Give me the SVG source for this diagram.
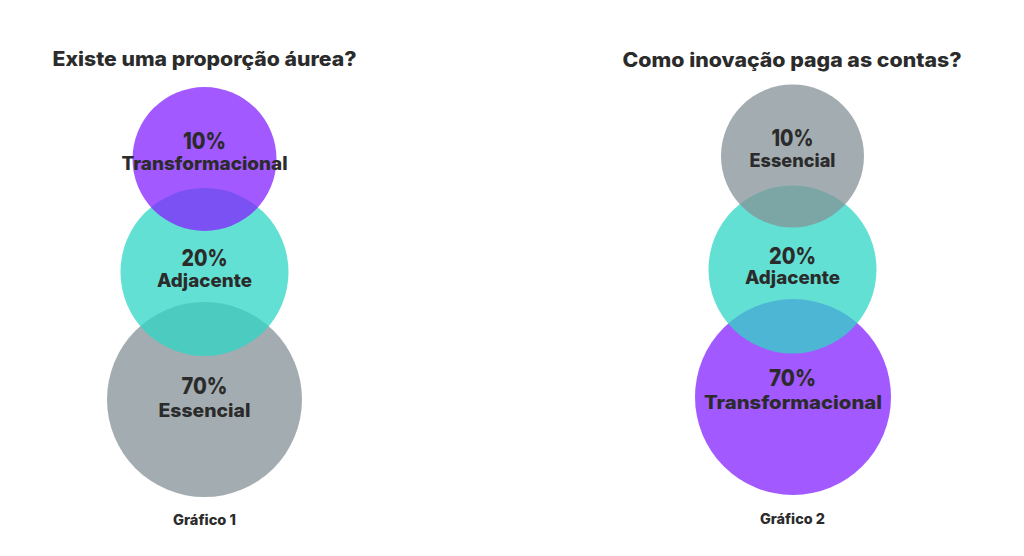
<svg xmlns="http://www.w3.org/2000/svg" width="1024" height="556" viewBox="0 0 1024 556">
  <style>
    text { font-family: Inter, "Liberation Sans", sans-serif; font-weight: 800; fill: #2b2b2b; text-anchor: middle; }
    .title { font-size: 20px; }
    .pct { font-size: 23px; }
    .lbl { font-size: 18.5px; }
    .cap { font-size: 14px; }
    .purple { fill: #8322FF; fill-opacity: 0.75; }
    .teal { fill: #2FD6C6; fill-opacity: 0.75; }
    .gray { fill: #849297; fill-opacity: 0.75; }
  </style>
  <rect width="1024" height="556" fill="#ffffff"/>

  <g id="chart1">
    <text class="title" x="204.5" y="66" textLength="304" lengthAdjust="spacingAndGlyphs">Existe uma proporção áurea?</text>
    <g id="c1-essencial">
      <circle class="gray" cx="204.5" cy="399.5" r="97.5"/>
      <text class="pct" x="204.5" y="394" textLength="46" lengthAdjust="spacingAndGlyphs">70%</text>
      <text class="lbl" x="204.5" y="417" textLength="92" lengthAdjust="spacingAndGlyphs">Essencial</text>
    </g>
    <g id="c1-adjacente">
      <circle class="teal" cx="204.5" cy="272" r="84"/>
    </g>
    <g id="c1-transformacional">
      <circle class="purple" cx="204.5" cy="159" r="72"/>
    </g>
    <g id="c1-labels">
      <text class="pct" x="204.5" y="265.5" textLength="46" lengthAdjust="spacingAndGlyphs">20%</text>
      <text class="lbl" x="204.5" y="287" textLength="95" lengthAdjust="spacingAndGlyphs">Adjacente</text>
      <text class="pct" x="204.5" y="149" textLength="43" lengthAdjust="spacingAndGlyphs">10%</text>
      <text class="lbl" x="204.5" y="170" textLength="166" lengthAdjust="spacingAndGlyphs">Transformacional</text>
    </g>
    <text class="cap" x="204.5" y="525" textLength="63" lengthAdjust="spacingAndGlyphs">Gráfico 1</text>
  </g>

  <g id="chart2">
    <text class="title" x="792" y="66.5" textLength="339" lengthAdjust="spacingAndGlyphs">Como inovação paga as contas?</text>
    <g id="c2-transformacional">
      <circle class="purple" cx="793" cy="397" r="98"/>
    </g>
    <g id="c2-adjacente">
      <circle class="teal" cx="792.5" cy="269.5" r="84"/>
    </g>
    <g id="c2-essencial">
      <circle class="gray" cx="792.5" cy="156" r="71.5"/>
    </g>
    <g id="c2-labels">
      <text class="pct" x="792.5" y="145.5" textLength="42" lengthAdjust="spacingAndGlyphs">10%</text>
      <text class="lbl" x="792.5" y="167" textLength="86" lengthAdjust="spacingAndGlyphs">Essencial</text>
      <text class="pct" x="792.5" y="263.5" textLength="47" lengthAdjust="spacingAndGlyphs">20%</text>
      <text class="lbl" x="792.5" y="284" textLength="95" lengthAdjust="spacingAndGlyphs">Adjacente</text>
      <text class="pct" x="792.5" y="386" textLength="47" lengthAdjust="spacingAndGlyphs">70%</text>
      <text class="lbl" x="793" y="409" textLength="178" lengthAdjust="spacingAndGlyphs">Transformacional</text>
    </g>
    <text class="cap" x="792.5" y="524" textLength="65" lengthAdjust="spacingAndGlyphs">Gráfico 2</text>
  </g>

  <g id="connectors"/>
</svg>
